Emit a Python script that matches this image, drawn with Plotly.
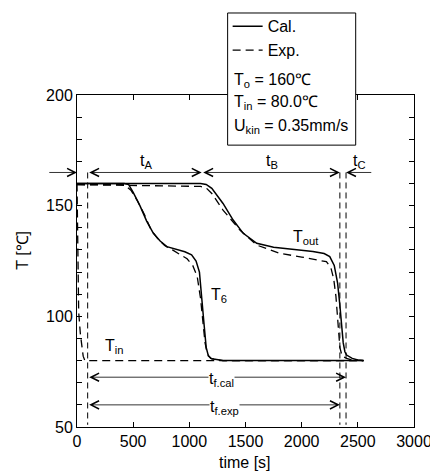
import plotly.graph_objects as go

# ---------------- data ----------------
t_out_cal = [0, 1100, 1150, 1200, 1300, 1390, 1480, 1600, 1750, 1920, 2100, 2200, 2250, 2290, 2320, 2340, 2355, 2370, 2385, 2400, 2450, 2500, 2550]
T_out_cal = [160, 160, 159.6, 157.8, 151, 143.5, 137.5, 133, 131.2, 130.3, 129.3, 128.4, 127, 123, 115, 105, 97, 88, 84, 82.5, 81, 80.3, 80]

t_out_exp = [0, 600, 1100, 1150, 1200, 1300, 1450, 1600, 1800, 2000, 2220, 2260, 2285, 2305, 2325, 2340, 2360, 2400, 2450, 2550]
T_out_exp = [159.5, 159.2, 158.7, 158, 155.5, 148, 139, 132.2, 128.5, 126.8, 124.7, 122, 117, 109, 96, 86, 82, 81, 80.2, 80]

t_6_cal = [0, 420, 460, 500, 560, 620, 680, 740, 800, 880, 960, 1020, 1060, 1090, 1110, 1130, 1150, 1170, 1200, 1250, 1300, 2550]
T_6_cal = [160, 160, 159.5, 156, 150, 143, 137.5, 134, 131.5, 130.2, 129.2, 127.8, 125, 120, 110, 97, 86, 82, 80.8, 80.3, 80, 80]

t_6_exp = [0, 420, 480, 540, 600, 660, 720, 780, 850, 920, 980, 1030, 1070, 1100, 1120, 1140, 1160, 1190, 1250, 1300, 2550]
T_6_exp = [159.5, 159.5, 157, 152, 146, 139, 135, 132, 130, 128, 126, 123, 118, 108, 97, 88, 83, 81, 80.3, 80, 80]

t_in_exp = [0, 5, 15, 30, 40, 55, 70, 2550]
T_in_exp = [160, 135, 102, 92, 88, 82, 80, 80]

# characteristic times [s] and levels [degC]
t_line_start = -260
t_d_end = 0
t_A_start = 95
t_B_start = 1110
t_f_exp_end = 2340
t_f_cal_end = 2395
t_line_end = 2633
level_phase = 165
level_tf_cal = 72.5
level_tf_exp = 60

x_ticks = [0, 500, 1000, 1500, 2000, 2500, 3000]
y_ticks = [50, 100, 150, 200]

FONT = "Liberation Sans, Arial, Helvetica, sans-serif"
DASH = "8px,5px"

fig = go.Figure()
fig.add_trace(go.Scatter(x=t_in_exp, y=T_in_exp, mode="lines", line=dict(color="black", width=1.3, dash=DASH), showlegend=False))
fig.add_trace(go.Scatter(x=t_6_exp, y=T_6_exp, mode="lines", line=dict(color="black", width=1.3, dash=DASH), showlegend=False))
fig.add_trace(go.Scatter(x=t_6_cal, y=T_6_cal, mode="lines", line=dict(color="black", width=1.5), showlegend=False))
fig.add_trace(go.Scatter(x=t_out_cal, y=T_out_cal, mode="lines", name="Cal.", line=dict(color="black", width=1.5)))
fig.add_trace(go.Scatter(x=t_out_exp, y=T_out_exp, mode="lines", name="Exp.", line=dict(color="black", width=1.3, dash=DASH)))

# vertical dashed guide lines
for tv in [t_A_start, t_f_exp_end, t_f_cal_end]:
    fig.add_shape(type="line", xref="x", yref="y", x0=tv, x1=tv, y0=level_phase, y1=51,
                  line=dict(color="black", width=1, dash="6px,4px"))

# horizontal arrows
def arrow(x_head, y_head, x_tail, y_tail, both=False):
    fig.add_annotation(x=x_head, y=y_head, ax=x_tail, ay=y_tail, xref="x", yref="y",
                       axref="x", ayref="y", text="", showarrow=True,
                       arrowhead=5, startarrowhead=5, arrowsize=2, startarrowsize=2,
                       arrowwidth=0.8, arrowcolor="black", standoff=0, startstandoff=0,
                       arrowside="end+start" if both else "end")

arrow(t_d_end, level_phase, t_line_start, level_phase)
arrow(t_B_start, level_phase, t_A_start, level_phase, both=True)
arrow(t_f_exp_end, level_phase, t_B_start, level_phase, both=True)
arrow(t_f_cal_end, level_phase, t_line_end, level_phase)
arrow(t_f_cal_end, level_tf_cal, t_A_start, level_tf_cal, both=True)
arrow(t_f_exp_end, level_tf_exp, t_A_start, level_tf_exp, both=True)

def label(x, y, text, bg=None):
    fig.add_annotation(x=x, y=y, xref="x", yref="y", text=text, showarrow=False,
                       xanchor="center", yanchor="middle",
                       font=dict(family=FONT, size=16, color="black"),
                       bgcolor=bg if bg else "rgba(0,0,0,0)", borderpad=0)

label(-145, 170, "t<sub>d</sub>")
label(612, 170, "t<sub>A</sub>")
label(1733, 170, "t<sub>B</sub>")
label(2517, 170, "t<sub>C</sub>")
label(2040, 135.5, "T<sub>out</sub>")
label(1262, 109.5, "T<sub>6</sub>")
label(330, 86.5, "T<sub>in</sub>")
label(1290, 71.5, "t<sub>f.cal</sub>", bg="white")
label(1316, 59, "t<sub>f.exp</sub>", bg="white")

# info box
fig.add_shape(type="rect", xref="paper", yref="paper", x0=0.447, x1=0.827, y0=0.849, y1=1.247,
              line=dict(color="black", width=1), fillcolor="white", layer="above")
for yy, txt in [(1.045, "T<sub>o</sub> = 160℃"), (0.976, "T<sub>in</sub> = 80.0℃"), (0.904, "U<sub>kin</sub> = 0.35mm/s")]:
    fig.add_annotation(x=0.459, y=yy, xref="paper", yref="paper", text=txt, showarrow=False,
                       xanchor="left", yanchor="middle", font=dict(family=FONT, size=16, color="black"))

# axis titles
fig.add_annotation(x=-0.164, y=0.533, xref="paper", yref="paper", text="T [℃]", textangle=-90,
                   xanchor="center", yanchor="middle",
                   showarrow=False, font=dict(family=FONT, size=16, color="black"))
fig.add_annotation(x=0.498, y=-0.108, xref="paper", yref="paper", text="time [s]",
                   xanchor="center", yanchor="middle",
                   showarrow=False, font=dict(family=FONT, size=16, color="black"))

fig.update_xaxes(range=[0, 3000], tickvals=x_ticks, ticks="inside", ticklen=5, tickcolor="black",
                 showline=True, linecolor="black", linewidth=1, mirror="ticks", showgrid=False,
                 zeroline=False, tickfont=dict(family=FONT, size=16, color="black"),
                 ticklabeloverflow="allow")
fig.update_yaxes(range=[50, 200], tickvals=y_ticks, ticks="inside", ticklen=5, tickcolor="black",
                 showline=True, linecolor="black", linewidth=1, mirror="ticks", showgrid=False,
                 zeroline=False, tickfont=dict(family=FONT, size=16, color="black"),
                 ticklabeloverflow="allow",
                 minor=dict(dtick=10, ticks="inside", ticklen=5, tickcolor="black", showgrid=False))

# page body adds an 8px offset, so the figure is 8px smaller and margins compensate
fig.update_layout(width=430, height=464, margin=dict(l=69, r=24, t=87, b=45, autoexpand=False),
                  plot_bgcolor="white", paper_bgcolor="white",
                  font=dict(family=FONT, size=16, color="black"),
                  legend=dict(x=0.447, y=1.258, xanchor="left", yanchor="top", bgcolor="rgba(0,0,0,0)",
                              font=dict(family=FONT, size=16, color="black"), tracegroupgap=0,
                              itemwidth=30))

fig.write_html("out.html")
